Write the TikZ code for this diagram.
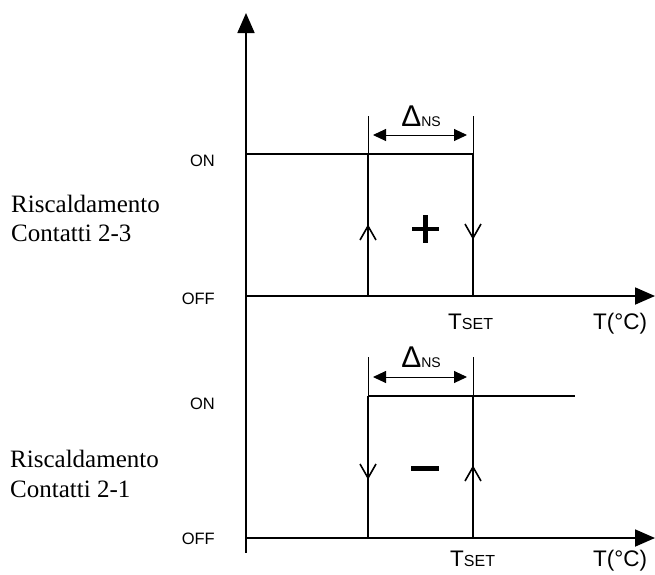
\documentclass[tikz,border=0pt]{standalone}
\usepackage{fontspec}
\setmainfont{Liberation Serif}
\newfontfamily\arialf{Liberation Sans}
\usetikzlibrary{arrows.meta}
\tikzset{
  axisline/.style={line width=1.8pt, -{Triangle[length=20pt,width=17pt]}},
  curve/.style={line width=1.6pt},
  tickline/.style={line width=0.9pt},
  dimarrow/.style={line width=1pt, {Triangle[length=13pt,width=12pt]}-{Triangle[length=13pt,width=12pt]}},
  chev/.style={line width=1.6pt},
  sans/.style={font=\arialf\fontsize{16.5}{18}\selectfont, inner sep=0pt},
  big/.style={font=\arialf\fontsize{22.5}{24}\selectfont, inner sep=0pt},
  serif/.style={font=\fontsize{25}{29}\selectfont, inner sep=0pt, align=left},
}
\newcommand{\tset}{{\fontsize{22.5}{24}\selectfont T}{\fontsize{16}{18}\selectfont SET}}
\newcommand{\dns}{{\fontsize{30}{31}\selectfont \char"0394}{\fontsize{14}{15}\selectfont NS}}
\begin{document}
\begin{tikzpicture}[x=1pt,y=-1pt]
\useasboundingbox (0,0) rectangle (655,574);

% ===== upper diagram =====
\draw[axisline] (246,338) -- (246,13);
\draw[axisline] (246,296) -- (655,296);
\draw[line width=1.3pt] (246,338) -- (246,553);
\draw[curve] (246,154) -- (473,154) -- (473,296);
\draw[curve] (368,154) -- (368,296);
\draw[tickline] (368,116) -- (368,154);
\draw[tickline] (473,116) -- (473,154);
\draw[dimarrow] (373,135) -- (467,135);
\node[anchor=base, inner sep=0pt, font=\arialf] (d1) at (421,126) {\dns};
% chevrons
\draw[chev] (360,240) -- (368,226) -- (376,240);
\draw[chev] (465,224) -- (473,238) -- (481,224);
% plus
\draw[line width=4.5pt] (412,229) -- (439,229);
\draw[line width=4.5pt] (425.5,215) -- (425.5,243);

\node[sans, anchor=base east] (on1) at (215,166) {ON};
\node[sans, anchor=base east] (off1) at (215,304) {OFF};
\node[serif, anchor=base west] (r1) at (11,212) {Riscaldamento};
\node[serif, anchor=base west] (c1) at (11,241) {Contatti 2-3};
\node[anchor=base west, inner sep=0pt, font=\arialf] (ts1) at (448,329) {\tset};
\node[big, anchor=base west] (tc1) at (593,329) {T(°C)};

% ===== lower diagram =====
\draw[axisline] (246,538) -- (655,538);
\draw[curve] (368,396) -- (575,396);
\draw[curve] (368,396) -- (368,538);
\draw[curve] (473,396) -- (473,538);
\draw[tickline] (368,357) -- (368,396);
\draw[tickline] (473,357) -- (473,396);
\draw[dimarrow] (373,377) -- (467,377);
\node[anchor=base, inner sep=0pt, font=\arialf] (d2) at (421,367) {\dns};
\draw[chev] (360,464) -- (368,478) -- (376,464);
\draw[chev] (465,481) -- (473,467) -- (481,481);
% minus
\draw[line width=5pt] (411,468) -- (439,468);

\node[sans, anchor=base east] (on2) at (215,409) {ON};
\node[sans, anchor=base east] (off2) at (215,544) {OFF};
\node[serif, anchor=base west] (r2) at (10,467) {Riscaldamento};
\node[serif, anchor=base west] (c2) at (10,497) {Contatti 2-1};
\node[anchor=base west, inner sep=0pt, font=\arialf] (ts2) at (450,566) {\tset};
\node[big, anchor=base west] (tc2) at (593,566) {T(°C)};
\end{tikzpicture}
\end{document}
